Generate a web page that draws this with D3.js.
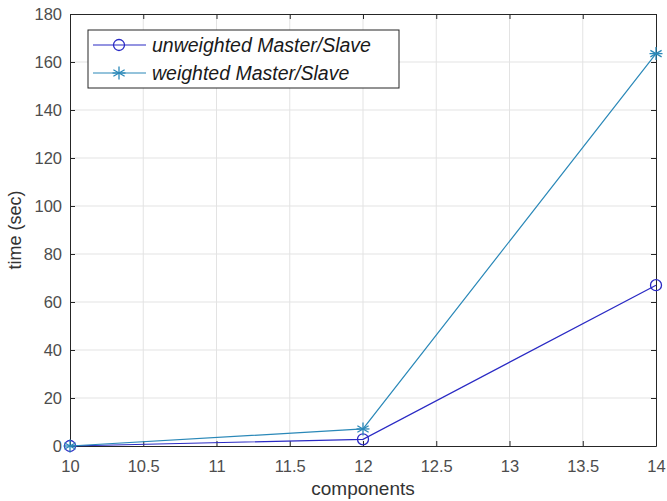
<!DOCTYPE html>
<html>
<head>
<meta charset="utf-8">
<script src="https://cdn.jsdelivr.net/npm/d3@7"></script>
<style>
  body { margin: 0; background: #fff; }
  svg { display: block; font-family: "Liberation Sans", Arial, sans-serif; }
</style>
</head>
<body>
<script>
const components = [10, 12, 14];
const unweighted = [0, 2.8, 67];
const weighted = [0, 7.1, 163.5];
const seriesNames = ["unweighted Master/Slave", "weighted Master/Slave"];
const xTicks = [10, 10.5, 11, 11.5, 12, 12.5, 13, 13.5, 14];
const yTicks = [0, 20, 40, 60, 80, 100, 120, 140, 160, 180];

const W = 667, H = 501;
const margin = { top: 14, right: 11, bottom: 55, left: 70 };
const width = W - margin.left - margin.right,
      height = H - margin.top - margin.bottom;

const svg = d3.select("body").append("svg")
    .attr("width", W)
    .attr("height", H);

const g = svg.append("g")
    .attr("transform", "translate(" + margin.left + "," + margin.top + ")");

const x = d3.scaleLinear().domain([10, 14]).range([0, width]);
const y = d3.scaleLinear().domain([0, 180]).range([height, 0]);

// grid
g.append("g").selectAll("line")
  .data(xTicks.slice(1, -1))
  .enter().append("line")
    .attr("x1", d => x(d)).attr("x2", d => x(d))
    .attr("y1", 0).attr("y2", height)
    .attr("stroke", "#e3e3e3");
g.append("g").selectAll("line")
  .data(yTicks.slice(1, -1))
  .enter().append("line")
    .attr("x1", 0).attr("x2", width)
    .attr("y1", d => y(d)).attr("y2", d => y(d))
    .attr("stroke", "#e3e3e3");

// axes (MATLAB style, ticks inside)
const axisColor = "#262626";
function styleAxis(sel) {
  sel.select(".domain").attr("stroke", axisColor);
  sel.selectAll(".tick line").attr("stroke", axisColor);
  sel.selectAll(".tick text").attr("fill", "#4d4d4d").style("font-size", "16.5px");
}
g.append("g")
  .attr("transform", "translate(0," + height + ")")
  .call(d3.axisBottom(x).tickValues(xTicks).tickFormat(d3.format("")).tickSizeInner(-5).tickSizeOuter(0).tickPadding(14))
  .call(styleAxis);
g.append("g")
  .call(d3.axisLeft(y).tickValues(yTicks).tickSizeInner(-5).tickSizeOuter(0).tickPadding(8))
  .call(styleAxis);
g.append("g")
  .call(d3.axisTop(x).tickValues(xTicks).tickFormat("").tickSizeInner(-5).tickSizeOuter(0))
  .call(styleAxis);
g.append("g")
  .attr("transform", "translate(" + width + ",0)")
  .call(d3.axisRight(y).tickValues(yTicks).tickFormat("").tickSizeInner(-5).tickSizeOuter(0))
  .call(styleAxis);

// axis labels
svg.append("text")
  .attr("x", margin.left + width / 2)
  .attr("y", 495)
  .attr("text-anchor", "middle")
  .attr("fill", "#333")
  .style("font-size", "19px")
  .text("components");
svg.append("text")
  .attr("transform", "translate(21," + (margin.top + height / 2) + ") rotate(-90)")
  .attr("text-anchor", "middle")
  .attr("fill", "#333")
  .style("font-size", "18px")
  .text("time (sec)");

const colors = ["#2a2ac4", "#2a88b8"];
const series = [unweighted, weighted];

const line = d3.line()
  .x((d, i) => x(components[i]))
  .y(d => y(d));

function star(sel, cx, cy, r, color) {
  const s = sel.append("g").attr("transform", "translate(" + cx + "," + cy + ")")
    .attr("stroke", color).attr("stroke-width", 1.3);
  [0, 60, 120].forEach(a => {
    const rad = a * Math.PI / 180;
    s.append("line")
      .attr("x1", -r * Math.sin(rad)).attr("y1", -r * Math.cos(rad))
      .attr("x2", r * Math.sin(rad)).attr("y2", r * Math.cos(rad));
  });
  s.append("line").attr("x1", -r).attr("x2", r).attr("y1", 0).attr("y2", 0);
}

series.forEach((vals, si) => {
  g.append("path")
    .datum(vals)
    .attr("fill", "none")
    .attr("stroke", colors[si])
    .attr("stroke-width", 1.2)
    .attr("d", line);
  vals.forEach((v, i) => {
    if (si === 0) {
      g.append("circle")
        .attr("cx", x(components[i])).attr("cy", y(v))
        .attr("r", 5.5)
        .attr("fill", "none")
        .attr("stroke", colors[si])
        .attr("stroke-width", 1.3);
    } else {
      star(g, x(components[i]), y(v), 6.5, colors[si]);
    }
  });
});

// legend
const legend = svg.append("g").attr("transform", "translate(88,30)");
legend.append("rect")
  .attr("width", 311).attr("height", 58)
  .attr("fill", "#fff")
  .attr("stroke", axisColor);
seriesNames.forEach((name, i) => {
  const ly = 15 + i * 28;
  legend.append("line")
    .attr("x1", 5).attr("x2", 58)
    .attr("y1", ly).attr("y2", ly)
    .attr("stroke", colors[i]).attr("stroke-width", 1.2);
  if (i === 0) {
    legend.append("circle").attr("cx", 31).attr("cy", ly).attr("r", 5.5)
      .attr("fill", "none").attr("stroke", colors[i]).attr("stroke-width", 1.3);
  } else {
    star(legend, 31, ly, 6.5, colors[i]);
  }
  legend.append("text")
    .attr("x", 64).attr("y", ly)
    .attr("dy", "0.35em")
    .attr("fill", "#1a1a1a")
    .style("font-size", "19.5px")
    .style("font-style", "italic")
    .text(name);
});
</script>
</body>
</html>
